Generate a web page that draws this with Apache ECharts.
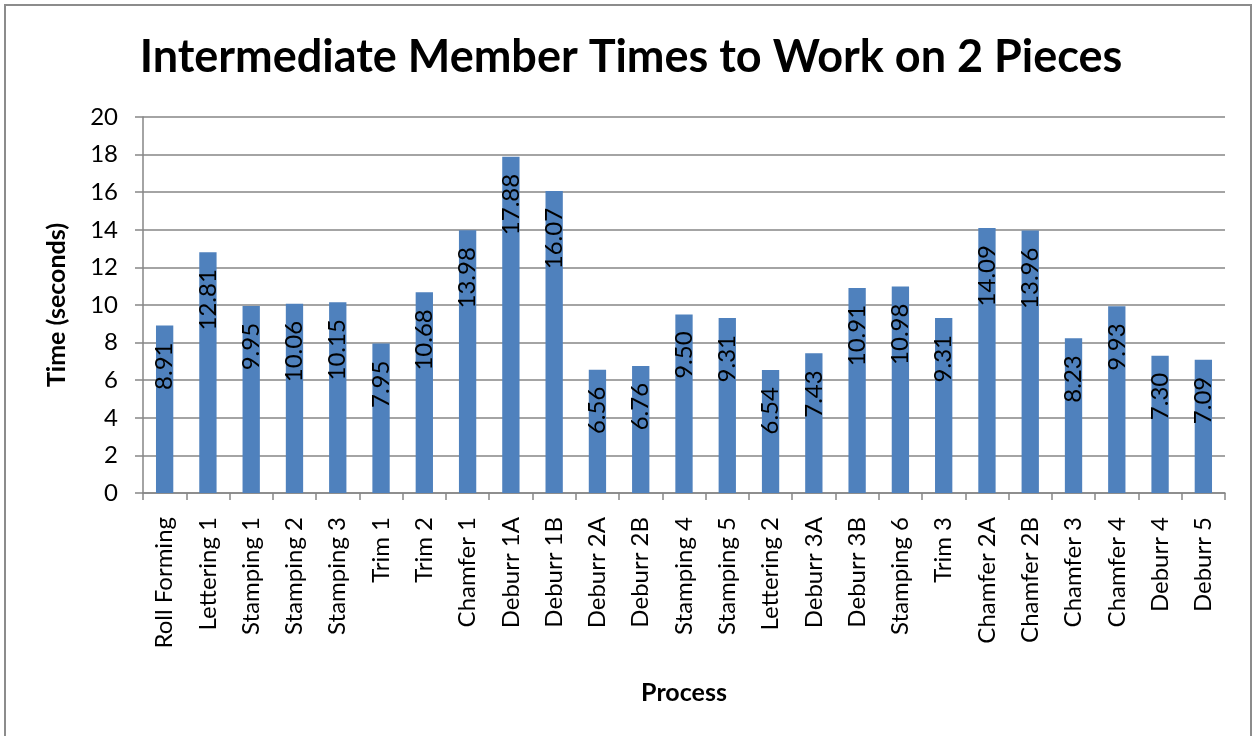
<!DOCTYPE html>
<html><head><meta charset="utf-8">
<script src="https://cdn.jsdelivr.net/npm/echarts@6/dist/echarts.min.js"></script>
<style>html,body{margin:0;padding:0;background:#fff}#c{width:1253px;height:736px}</style>
</head><body><div id="c"></div>
<script>
const categories = ["Roll Forming","Lettering 1","Stamping 1","Stamping 2","Stamping 3","Trim 1","Trim 2","Chamfer 1","Deburr 1A","Deburr 1B","Deburr 2A","Deburr 2B","Stamping 4","Stamping 5","Lettering 2","Deburr 3A","Deburr 3B","Stamping 6","Trim 3","Chamfer 2A","Chamfer 2B","Chamfer 3","Chamfer 4","Deburr 4","Deburr 5"];
const times = [8.91,12.81,9.95,10.06,10.15,7.95,10.68,13.98,17.88,16.07,6.56,6.76,9.50,9.31,6.54,7.43,10.91,10.98,9.31,14.09,13.96,8.23,9.93,7.30,7.09];
const yTicks = {min:0, max:20, interval:2};
const FONT = 'Lato, "Open Sans", sans-serif';
const chart = echarts.init(document.getElementById('c'), null, {renderer:'canvas'});
chart.setOption({
  animation:false,
  backgroundColor:'#fff',
  title:{text:'Intermediate Member Times to Work on 2 Pieces', left:626, textAlign:'center', top:30,
    textStyle:{fontFamily:FONT, fontWeight:'bold', fontSize:45, color:'#000'}},
  graphic:[{type:'rect', shape:{x:5,y:5,width:1246,height:745}, style:{fill:'none', stroke:'#8c8c8c', lineWidth:2}, silent:true}],
  grid:{left:143, right:28, top:117, bottom:243, containLabel:false},
  xAxis:{type:'category', data:categories, name:'Process', nameLocation:'middle', nameGap:187,
    nameTextStyle:{fontFamily:FONT, fontWeight:'bold', fontSize:25, color:'#000'},
    axisLine:{lineStyle:{color:'#868686', width:1.5}},
    axisTick:{show:true, length:7, alignWithLabel:false, lineStyle:{color:'#868686', width:1.5}},
    axisLabel:{rotate:90, interval:0, margin:24, fontFamily:FONT, fontSize:24, color:'#000'}},
  yAxis:{type:'value', min:yTicks.min, max:yTicks.max, interval:yTicks.interval,
    name:'Time (seconds)', nameLocation:'middle', nameGap:74, nameRotate:90,
    nameTextStyle:{fontFamily:FONT, fontWeight:'bold', fontSize:25, color:'#000'},
    axisLine:{show:true, lineStyle:{color:'#868686', width:1.5}},
    axisTick:{show:true, length:8, lineStyle:{color:'#868686', width:1.5}},
    splitLine:{lineStyle:{color:'#868686', width:1.5}},
    axisLabel:{margin:25, fontFamily:FONT, fontSize:24, color:'#000'}},
  series:[{type:'bar', data:times, barWidth:'40%', itemStyle:{color:'#4F81BD'},
    label:{show:true, position:'insideTop', distance:17, rotate:90, align:'right', verticalAlign:'middle',
      fontFamily:FONT, fontSize:24, color:'#000', formatter:p=>p.value.toFixed(2)}}]
});
</script></body></html>
